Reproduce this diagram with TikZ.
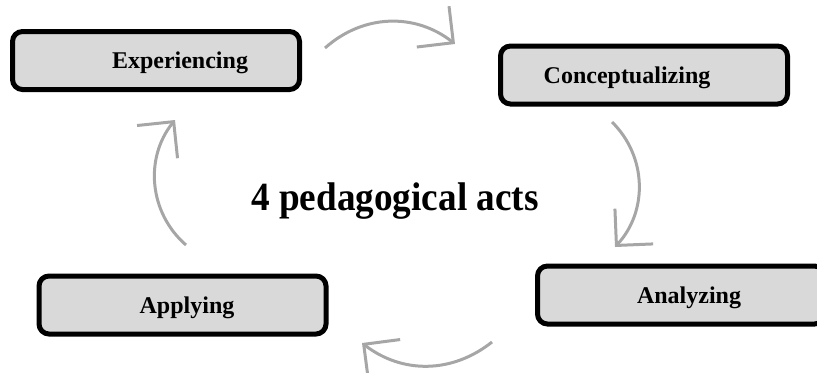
\documentclass[tikz,border=0pt]{standalone}
\usepackage{fontspec}
\setmainfont{Liberation Serif}
\usetikzlibrary{arrows.meta}

\definecolor{boxgray}{HTML}{D9D9D9}
\definecolor{arrowgray}{HTML}{A6A6A6}

\tikzset{
    act/.style = {
        rectangle,
        rounded corners=5pt,
        minimum width=143.5pt,
        minimum height=29pt,
        text height=11pt,
        text depth=2.6pt,
        line width=2.5pt,
        draw=black,
        fill=boxgray,
        font=\fontsize{12}{14}\selectfont\bfseries
    },
    cyclearrow/.style = {
        draw=arrowgray,
        line width=1.5pt,
        -{Straight Barb[length=13pt,width=26pt]}
    }
}

\begin{document}
\begin{tikzpicture}[x=0.5pt, y=0.5pt]
\clip (0,0) rectangle (817,372);

\node (exp) [act] at (156,311.5) {\hspace*{24pt}Experiencing};
\node (con) [act] at (644,297) {Conceptualizing\hspace*{17pt}};
\node (ana) [act] at (681,77) {\hspace*{8pt}Analyzing};
\node (app) [act] at (182.5,67) {\hspace*{4.5pt}Applying};

\node (title) [anchor=base, font=\fontsize{20}{24}\selectfont\bfseries] at (395,162) {\scalebox{0.93}[1]{4 pedagogical acts}};

% Arrows
\coordinate (a1s) at (325,324);
\coordinate (a1e) at (455,328);
\coordinate (a2s) at (612,250);
\coordinate (a2e) at (615,125);
\coordinate (a3s) at (492,30);
\coordinate (a3e) at (362,29);
\coordinate (a4s) at (186,127);
\coordinate (a4e) at (175,252);

\draw [cyclearrow] (a1s) to[bend left=40] (a1e);
\draw [cyclearrow] (a2s) to[bend left=44] (a2e);
\draw [cyclearrow] (a3s) to[bend left=38] (a3e);
\draw [cyclearrow] (a4s) to[bend left=44] (a4e);

\end{tikzpicture}
\end{document}
